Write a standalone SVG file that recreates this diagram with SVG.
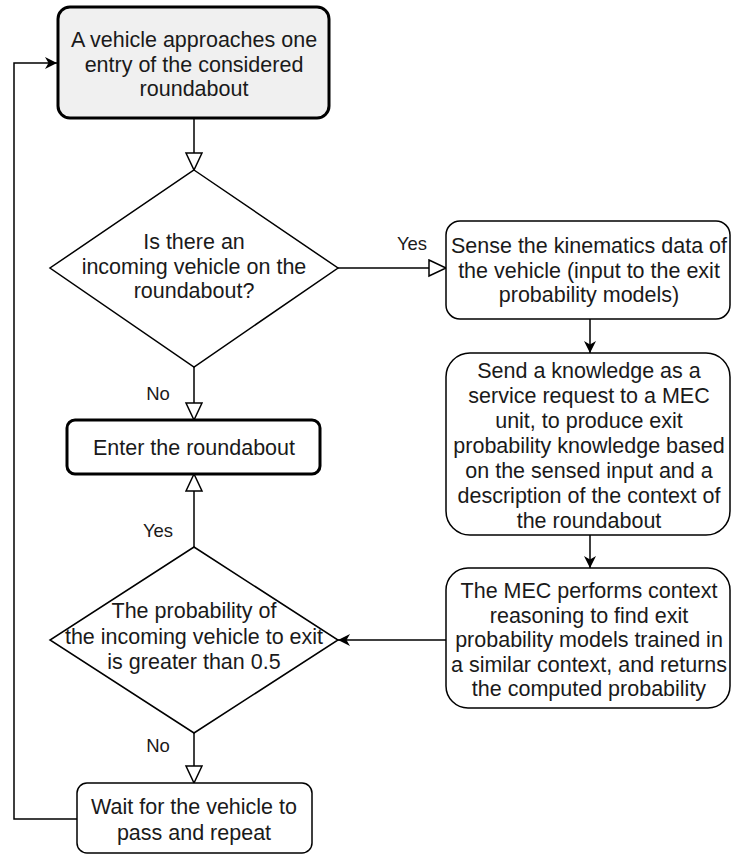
<svg xmlns="http://www.w3.org/2000/svg" width="732" height="854" viewBox="0 0 732 854">
<style>
.box{fill:#fff;stroke:#000;stroke-width:1.5}
.thick{stroke-width:3}
.t{font-family:"Liberation Sans",Arial,sans-serif;font-size:21.5px;fill:#1a1a1a;text-anchor:middle}
.lbl{font-family:"Liberation Sans",Arial,sans-serif;font-size:18.5px;fill:#1a1a1a;text-anchor:middle}
.c{fill:none;stroke:#000;stroke-width:1.5}
</style>
<defs>
<marker id="open" markerUnits="userSpaceOnUse" markerWidth="22" markerHeight="22" refX="18" refY="9" orient="auto">
<path d="M1,1 L18,9 L1,17 Z" fill="#fff" stroke="#000" stroke-width="1.5"/>
</marker>
<marker id="fill" markerUnits="userSpaceOnUse" markerWidth="14" markerHeight="14" refX="12" refY="6" orient="auto">
<path d="M0,0 L12,6 L0,12 L3.5,6 Z" fill="#000"/>
</marker>
</defs>
<g id="connectors">
<path class="c" d="M194,118 L194,170" marker-end="url(#open)"/>
<path class="c" d="M338,268 L446,268" marker-end="url(#open)"/>
<path class="c" d="M590,319 L590,353" marker-end="url(#fill)"/>
<path class="c" d="M590,535 L590,568" marker-end="url(#fill)"/>
<path class="c" d="M446,640 L338,640" marker-end="url(#fill)"/>
<path class="c" d="M194,367 L194,420" marker-end="url(#open)"/>
<path class="c" d="M194,547 L194,474" marker-end="url(#open)"/>
<path class="c" d="M194,733 L194,783" marker-end="url(#open)"/>
<path class="c" d="M77,819 L14,819 L14,63 L57,63" marker-end="url(#fill)"/>
<text class="lbl" x="412" y="250">Yes</text>
<text class="lbl" x="158" y="400">No</text>
<text class="lbl" x="158" y="537">Yes</text>
<text class="lbl" x="158" y="752">No</text>
</g>
<g id="start">
<rect class="box thick" x="58" y="7" width="271" height="111" rx="12" style="fill:#f0f0f0"/>
<text class="t" x="194" y="47">A vehicle approaches one</text>
<text class="t" x="194" y="71.5">entry of the considered</text>
<text class="t" x="194" y="96">roundabout</text>
</g>
<g id="decision1">
<polygon class="box" points="194,170 338,268 194,367 50,268"/>
<text class="t" x="194" y="249">Is there an</text>
<text class="t" x="194" y="274">incoming vehicle on the</text>
<text class="t" x="194" y="298">roundabout?</text>
</g>
<g id="sense">
<rect class="box" x="446" y="221" width="284" height="98" rx="14"/>
<text class="t" x="589" y="253">Sense the kinematics data of</text>
<text class="t" x="589" y="278">the vehicle (input to the exit</text>
<text class="t" x="589" y="302">probability models)</text>
</g>
<g id="send">
<rect class="box" x="446" y="353" width="284" height="182" rx="24"/>
<text class="t" x="589" y="378">Send a knowledge as a</text>
<text class="t" x="589" y="403">service request to a MEC</text>
<text class="t" x="589" y="428">unit, to produce exit</text>
<text class="t" x="589" y="453">probability knowledge based</text>
<text class="t" x="589" y="478">on the sensed input and a</text>
<text class="t" x="589" y="503">description of the context of</text>
<text class="t" x="589" y="528">the roundabout</text>
</g>
<g id="mec">
<rect class="box" x="446" y="568" width="284" height="140" rx="22"/>
<text class="t" x="589" y="598">The MEC performs context</text>
<text class="t" x="589" y="622.5">reasoning to find exit</text>
<text class="t" x="589" y="647">probability models trained in</text>
<text class="t" x="589" y="671.5">a similar context, and returns</text>
<text class="t" x="589" y="696">the computed probability</text>
</g>
<g id="enter">
<rect class="box thick" x="67" y="420" width="253" height="54" rx="8"/>
<text class="t" x="194" y="455">Enter the roundabout</text>
</g>
<g id="decision2">
<polygon class="box" points="194,547 338,640 194,733 50,640"/>
<text class="t" x="194" y="618">The probability of</text>
<text class="t" x="194" y="644">the incoming vehicle to exit</text>
<text class="t" x="194" y="669">is greater than 0.5</text>
</g>
<g id="wait">
<rect class="box" x="77" y="783" width="235" height="70" rx="10"/>
<text class="t" x="194" y="814">Wait for the vehicle to</text>
<text class="t" x="194" y="840">pass and repeat</text>
</g>
</svg>
